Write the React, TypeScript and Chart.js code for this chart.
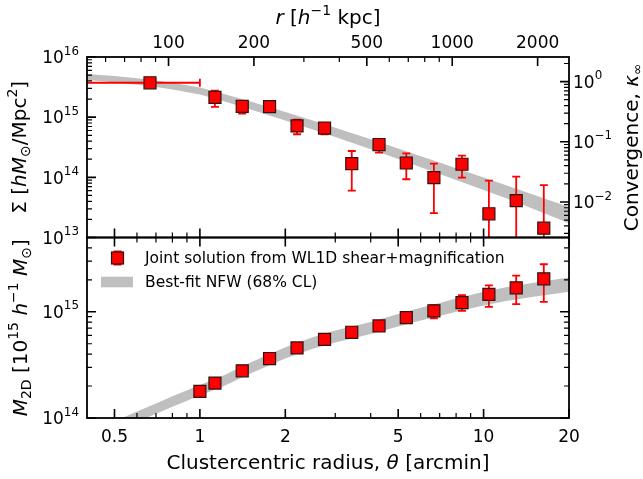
import React, { useEffect, useRef } from "react";
import { Chart, registerables } from "chart.js";
Chart.register(...registerables);

// ---------- data ----------
const sigmaTheta = [0.667, 1.13, 1.41, 1.76, 2.2, 2.75, 3.43, 4.28, 5.34, 6.68, 8.39, 10.44, 13.03, 16.3];
const sigmaValues = [3.73e15, 2.13e15, 1.51e15, 1.5e15, 7.16e14, 6.6e14, 1.69e14, 3.51e14, 1.73e14, 9.9e13, 1.65e14, 2.48e13, 4.09e13, 1.43e13];
const sigmaErrLow = [3.73e15, 1.48e15, 1.15e15, 1.5e15, 5.2e14, 5.2e14, 6.0e13, 2.57e14, 9.3e13, 2.54e13, 9.9e13, 1e11, 1e11, 1e11];
const sigmaErrHigh = [3.73e15, 2.75e15, 1.6e15, 1.5e15, 9.1e14, 8.0e14, 2.74e14, 4.3e14, 2.51e14, 1.69e14, 2.3e14, 8.8e13, 1.03e14, 7.45e13];
const sigmaThetaLow = [0.1, null, null, null, null, null, null, null, null, null, null, null, null, null];
const sigmaThetaHigh = [1.0, null, null, null, null, null, null, null, null, null, null, null, null, null];

const massTheta = [1.0, 1.13, 1.41, 1.76, 2.2, 2.75, 3.43, 4.28, 5.34, 6.68, 8.39, 10.44, 13.03, 16.3];
const massValues = [1.78e14, 2.13e14, 2.78e14, 3.63e14, 4.57e14, 5.5e14, 6.41e14, 7.35e14, 8.79e14, 1.02e15, 1.22e15, 1.46e15, 1.68e15, 2.04e15];
const massErrLow = [1.78e14, 2.13e14, 2.78e14, 3.63e14, 4.57e14, 5.5e14, 6.41e14, 7.35e14, 8.79e14, 8.69e14, 1.02e15, 1.11e15, 1.18e15, 1.24e15];
const massErrHigh = [1.78e14, 2.13e14, 2.78e14, 3.63e14, 4.57e14, 5.5e14, 6.41e14, 7.35e14, 8.79e14, 1.156e15, 1.43e15, 1.77e15, 2.19e15, 2.8e15];

const sigmaBandTheta = [0.4, 0.5, 0.6, 0.7, 0.8, 1.0, 1.2, 1.5, 2, 2.5, 3, 4, 5, 6, 7, 8, 10, 12, 15, 20];
const sigmaBandHigh = [5.21e15, 4.81e15, 4.44e15, 4.06e15, 3.74e15, 3.1e15, 2.48e15, 1.84e15, 1.22e15, 8.79e14, 6.66e14, 4.3e14, 3.01e14, 2.25e14, 1.76e14, 1.42e14, 9.91e13, 7.36e13, 5.14e13, 3.2e13];
const sigmaBandLow = [4.14e15, 3.79e15, 3.46e15, 3.16e15, 2.88e15, 2.37e15, 1.87e15, 1.36e15, 8.81e14, 6.25e14, 4.68e14, 2.93e14, 2.01e14, 1.47e14, 1.14e14, 9.02e13, 6.18e13, 4.47e13, 2.97e13, 1.73e13];

const massBandTheta = [0.5, 0.6, 0.7, 0.8, 1.0, 1.2, 1.5, 2, 2.5, 3, 4, 5, 6, 7, 8, 10, 12, 15, 20];
const massBandHigh = [9.27e13, 1.152e14, 1.371e14, 1.6e14, 2.05e14, 2.49e14, 3.31e14, 4.64e14, 5.77e14, 6.67e14, 8.03e14, 9.53e14, 1.091e15, 1.209e15, 1.336e15, 1.54e15, 1.7e15, 1.88e15, 2.1e15];
const massBandLow = [7.38e13, 9.19e13, 1.094e14, 1.274e14, 1.63e14, 1.97e14, 2.61e14, 3.63e14, 4.49e14, 5.14e14, 6.17e14, 7.27e14, 8.26e14, 9.1e14, 1.0e15, 1.148e15, 1.263e15, 1.387e15, 1.54e15];

const xTickLabels = [0.5, 1, 2, 5, 10, 20];
const rTickLabels = [100, 200, 500, 1000, 2000];
const sigmaTickLabels = [1e13, 1e14, 1e15, 1e16];
const massTickLabels = [1e14, 1e15];
const kappaTickLabels = [1e-2, 1e-1, 1];

const thetaRange = [0.4, 20];
const sigmaRange = [1e13, 1e16];
const massRange = [1e14, 5e15];
const sigmaCrit = 3.9e15; // Σ at κ = 1
const kpcPerArcmin = 129;

const legendLabels = ["Joint solution from WL1D shear+magnification", "Best-fit NFW (68% CL)"];

// ---------- style ----------
const RED = "#ff0000";
const BAND = "#bfbfbf";
const FONT = '"DejaVu Sans", sans-serif';

type Seg = { t: string; i?: boolean; b?: "sub" | "sup" };

function segFont(size: number, s: Seg) {
  const sz = s.b ? size * 0.7 : size;
  return `${s.i ? "italic " : ""}${sz}px ${FONT}`;
}
function drawRich(ctx: CanvasRenderingContext2D, segs: Seg[], x: number, y: number, size: number, align: "left" | "center" | "right", raise = 0.45) {
  let w = 0;
  for (const s of segs) {
    ctx.font = segFont(size, s);
    w += ctx.measureText(s.t).width;
  }
  let cx = align === "left" ? x : align === "center" ? x - w / 2 : x - w;
  ctx.textAlign = "left";
  ctx.textBaseline = "alphabetic";
  for (const s of segs) {
    ctx.font = segFont(size, s);
    const dy = s.b === "sup" ? -size * raise : s.b === "sub" ? size * 0.22 : 0;
    ctx.fillText(s.t, cx, y + dy);
    cx += ctx.measureText(s.t).width;
  }
}
function powSegs(v: number): Seg[] {
  const e = Math.round(Math.log10(v));
  return [{ t: "10" }, { t: e < 0 ? "\u2212" + Math.abs(e) : String(e), b: "sup" }];
}
function minors(min: number, max: number, majors: number[]) {
  const out: number[] = [];
  for (let d = Math.floor(Math.log10(min)) - 1; d <= Math.ceil(Math.log10(max)); d++) {
    for (let k = 2; k <= 9; k++) {
      const v = k * Math.pow(10, d);
      if (v > min * 1.0001 && v < max * 0.9999 && !majors.some((m) => Math.abs(m - v) / m < 1e-6)) out.push(v);
    }
  }
  return out;
}
function decades(min: number, max: number) {
  const out: number[] = [];
  for (let d = Math.ceil(Math.log10(min) - 1e-9); d <= Math.floor(Math.log10(max) + 1e-9); d++) out.push(Math.pow(10, d));
  return out;
}

const MAJ = 9;
const MIN = 5;

const panelPlugin = {
  id: "panels",
  beforeDatasetDraw(chart: any, args: any) {
    const meta = args.meta;
    const ctx = chart.ctx as CanvasRenderingContext2D;
    const xs = chart.scales.x;
    const ys = chart.scales[meta.yAxisID];
    ctx.save();
    ctx.beginPath();
    ctx.rect(xs.left, ys.top, xs.right - xs.left, ys.bottom - ys.top);
    ctx.clip();
    const ds = chart.data.datasets[args.index];
    if (ds.errKind) {
      const th = ds.errKind === "sigma" ? sigmaTheta : massTheta;
      const lo = ds.errKind === "sigma" ? sigmaErrLow : massErrLow;
      const hi = ds.errKind === "sigma" ? sigmaErrHigh : massErrHigh;
      ctx.strokeStyle = RED;
      ctx.lineWidth = 1.8;
      const cap = 4;
      for (let i = 0; i < th.length; i++) {
        const px = xs.getPixelForValue(th[i]);
        const pl = ys.getPixelForValue(lo[i]);
        const ph = ys.getPixelForValue(hi[i]);
        if (Math.abs(pl - ph) > 0.5) {
          ctx.beginPath();
          ctx.moveTo(px, pl);
          ctx.lineTo(px, ph);
          ctx.moveTo(px - cap, pl);
          ctx.lineTo(px + cap, pl);
          ctx.moveTo(px - cap, ph);
          ctx.lineTo(px + cap, ph);
          ctx.stroke();
        }
        if (ds.errKind === "sigma" && sigmaThetaLow[i] != null) {
          const py = ys.getPixelForValue(sigmaValues[i]);
          const xl = xs.getPixelForValue(sigmaThetaLow[i] as number);
          const xh = xs.getPixelForValue(sigmaThetaHigh[i] as number);
          ctx.beginPath();
          ctx.moveTo(xl, py);
          ctx.lineTo(xh, py);
          ctx.moveTo(xl, py - cap);
          ctx.lineTo(xl, py + cap);
          ctx.moveTo(xh, py - cap);
          ctx.lineTo(xh, py + cap);
          ctx.stroke();
        }
      }
    }
  },
  afterDatasetDraw(chart: any) {
    chart.ctx.restore();
  },
  afterDraw(chart: any) {
    const ctx = chart.ctx as CanvasRenderingContext2D;
    const { x, xr, ySig, yM, yK, yMR } = chart.scales;
    const L = x.left, R = x.right;
    ctx.save();
    ctx.fillStyle = "#000";
    ctx.strokeStyle = "#000";

    const hTicks = (scale: any, vals: number[], y0: number, dir: number, len: number) => {
      ctx.beginPath();
      for (const v of vals) {
        const p = scale.getPixelForValue(v);
        ctx.moveTo(p, y0);
        ctx.lineTo(p, y0 + dir * len);
      }
      ctx.stroke();
    };
    const vTicks = (scale: any, vals: number[], x0: number, dir: number, len: number) => {
      ctx.beginPath();
      for (const v of vals) {
        const p = scale.getPixelForValue(v);
        ctx.moveTo(x0, p);
        ctx.lineTo(x0 + dir * len, p);
      }
      ctx.stroke();
    };
    const xMin = minors(thetaRange[0], thetaRange[1], xTickLabels);
    const rMin = minors(xr.min, xr.max, rTickLabels);
    const sMaj = decades(ySig.min, ySig.max);
    const sMin = minors(ySig.min, ySig.max, sMaj);
    const mMaj = decades(yM.min, yM.max);
    const mMin = minors(yM.min, yM.max, mMaj);
    const kMaj = decades(yK.min, yK.max);
    const kMin = minors(yK.min, yK.max, kMaj);

    for (const [w, len, isMaj] of [[1.6, MAJ, true], [1.2, MIN, false]] as any) {
      ctx.lineWidth = w;
      const xv = isMaj ? xTickLabels : xMin;
      hTicks(x, xv, ySig.bottom, -1, len);
      hTicks(x, xv, yM.top, 1, len);
      hTicks(x, xv, yM.bottom, -1, len);
      hTicks(xr, isMaj ? rTickLabels : rMin, ySig.top, 1, len);
      vTicks(ySig, isMaj ? sMaj : sMin, L, 1, len);
      vTicks(yK, isMaj ? kMaj : kMin, R, -1, len);
      vTicks(yM, isMaj ? mMaj : mMin, L, 1, len);
      vTicks(yMR, isMaj ? mMaj : mMin, R, -1, len);
    }

    ctx.lineWidth = 1.8;
    ctx.strokeRect(L, ySig.top, R - L, ySig.bottom - ySig.top);
    ctx.strokeRect(L, yM.top, R - L, yM.bottom - yM.top);

    for (const v of sigmaTickLabels) drawRich(ctx, powSegs(v), L - 8, ySig.getPixelForValue(v) + 6.2, 17, "right", 0.5);
    for (const v of massTickLabels) drawRich(ctx, powSegs(v), L - 8, yM.getPixelForValue(v) + 6.2, 17, "right", 0.5);
    for (const v of kappaTickLabels) drawRich(ctx, powSegs(v), R + 4, yK.getPixelForValue(v) + 6.2, 17, "left", 0.5);
    ctx.font = `17px ${FONT}`;
    ctx.textAlign = "center";
    ctx.textBaseline = "alphabetic";
    for (const v of xTickLabels) ctx.fillText(String(v), x.getPixelForValue(v), yM.bottom + 23.5);
    for (const v of rTickLabels) ctx.fillText(String(v), xr.getPixelForValue(v), ySig.top - 9.5);

    const cxm = (L + R) / 2;
    drawRich(ctx, [{ t: "Clustercentric radius, " }, { t: "\u03b8", i: true }, { t: " [arcmin]" }], cxm, 469, 20, "center");
    drawRich(ctx, [{ t: "r", i: true }, { t: " [" }, { t: "h", i: true }, { t: "\u22121", b: "sup" }, { t: " kpc]" }], cxm, 24, 20, "center");

    const rot = (cx: number, cy: number, segs: Seg[]) => {
      ctx.save();
      ctx.translate(cx, cy);
      ctx.rotate(-Math.PI / 2);
      drawRich(ctx, segs, 0, 0, 20, "center");
      ctx.restore();
    };
    rot(26, (ySig.top + ySig.bottom) / 2, [
      { t: "\u03a3 [" }, { t: "h", i: true }, { t: "M", i: true }, { t: "\u2299", b: "sub" }, { t: "/Mpc" }, { t: "2", b: "sup" }, { t: "]" },
    ]);
    rot(27, (yM.top + yM.bottom) / 2, [
      { t: "M", i: true }, { t: "2D", b: "sub" }, { t: " [10" }, { t: "15", b: "sup" }, { t: " " }, { t: "h", i: true }, { t: "\u22121", b: "sup" }, { t: " " }, { t: "M", i: true }, { t: "\u2299", b: "sub" }, { t: "]" },
    ]);
    rot(638, (ySig.top + ySig.bottom) / 2, [{ t: "Convergence, " }, { t: "\u03ba", i: true }, { t: "\u221e", b: "sub" }]);

    const ly1 = yM.top + 20.5;
    const ly2 = yM.top + 44.5;
    const lx = L + 30.5;
    ctx.strokeStyle = RED;
    ctx.lineWidth = 1.8;
    ctx.beginPath();
    ctx.moveTo(lx, ly1 - 6.7);
    ctx.lineTo(lx, ly1 + 6.7);
    ctx.moveTo(lx - 4, ly1 - 6.7);
    ctx.lineTo(lx + 4, ly1 - 6.7);
    ctx.moveTo(lx - 4, ly1 + 6.7);
    ctx.lineTo(lx + 4, ly1 + 6.7);
    ctx.stroke();
    ctx.fillStyle = RED;
    ctx.fillRect(lx - 6, ly1 - 6, 12, 12);
    ctx.strokeStyle = "#331111";
    ctx.lineWidth = 1.2;
    ctx.strokeRect(lx - 6, ly1 - 6, 12, 12);
    ctx.fillStyle = BAND;
    ctx.fillRect(L + 14, ly2 - 5.3, 32, 10.6);
    ctx.fillStyle = "#000";
    ctx.font = `15.5px ${FONT}`;
    ctx.textAlign = "left";
    ctx.textBaseline = "middle";
    ctx.fillText(legendLabels[0], L + 58, ly1 + 1);
    ctx.fillText(legendLabels[1], L + 58, ly2 + 1);
    ctx.restore();
  },
};

const hiddenAxis = (extra: any) => ({
  type: "logarithmic",
  ticks: { display: false },
  grid: { display: false },
  border: { display: false },
  ...extra,
});

export default function App() {
  const ref = useRef<HTMLCanvasElement>(null);
  useEffect(() => {
    const pts = (xs: number[], ys: number[]) => xs.map((v, i) => ({ x: v, y: ys[i] }));
    const marker = {
      showLine: false,
      pointStyle: "rect",
      pointRadius: 8.5,
      pointHoverRadius: 8.5,
      pointBackgroundColor: RED,
      pointBorderColor: "#331111",
      pointBorderWidth: 1.2,
      order: 0,
    };
    const band = {
      showLine: true,
      pointRadius: 0,
      borderWidth: 0,
      borderColor: "rgba(0,0,0,0)",
      backgroundColor: BAND,
      tension: 0,
      order: 5,
    };
    const chart = new Chart(ref.current as HTMLCanvasElement, {
      type: "line",
      data: {
        datasets: [
          { ...marker, label: legendLabels[0], data: pts(sigmaTheta, sigmaValues), yAxisID: "ySig", errKind: "sigma" } as any,
          { ...marker, label: legendLabels[0], data: pts(massTheta, massValues), yAxisID: "yM", errKind: "mass" } as any,
          { ...band, label: "sigmaHigh", data: pts(sigmaBandTheta, sigmaBandHigh), yAxisID: "ySig", fill: "+1" } as any,
          { ...band, label: "sigmaLow", data: pts(sigmaBandTheta, sigmaBandLow), yAxisID: "ySig", fill: false } as any,
          { ...band, label: "massHigh", data: pts(massBandTheta, massBandHigh), yAxisID: "yM", fill: "+1" } as any,
          { ...band, label: "massLow", data: pts(massBandTheta, massBandLow), yAxisID: "yM", fill: false } as any,
        ],
      },
      options: {
        responsive: false,
        animation: false,
        events: [],
        layout: { padding: 0 },
        plugins: { legend: { display: false }, tooltip: { enabled: false } },
        scales: {
          x: hiddenAxis({ position: "bottom", min: thetaRange[0], max: thetaRange[1], afterFit: (s: any) => { s.height = 61; } }),
          xr: hiddenAxis({ position: "top", min: thetaRange[0] * kpcPerArcmin, max: thetaRange[1] * kpcPerArcmin, afterFit: (s: any) => { s.height = 57; } }),
          yM: hiddenAxis({ position: "left", stack: "L", stackWeight: 1, min: massRange[0], max: massRange[1], afterFit: (s: any) => { s.width = 87; } }),
          ySig: hiddenAxis({ position: "left", stack: "L", stackWeight: 1, min: sigmaRange[0], max: sigmaRange[1], afterFit: (s: any) => { s.width = 87; } }),
          yK: hiddenAxis({ position: "right", stack: "R", stackWeight: 1, min: sigmaRange[0] / sigmaCrit, max: sigmaRange[1] / sigmaCrit, afterFit: (s: any) => { s.width = 74; } }),
          yMR: hiddenAxis({ position: "right", stack: "R", stackWeight: 1, min: massRange[0], max: massRange[1], afterFit: (s: any) => { s.width = 74; } }),
        },
      } as any,
      plugins: [panelPlugin as any],
    });
    return () => chart.destroy();
  }, []);
  return (
    <div style={{ position: "fixed", left: 0, top: 0, width: 643, height: 479, background: "#fff" }}>
      <canvas ref={ref} width={643} height={479} style={{ display: "block", width: 643, height: 479 }} />
    </div>
  );
}
